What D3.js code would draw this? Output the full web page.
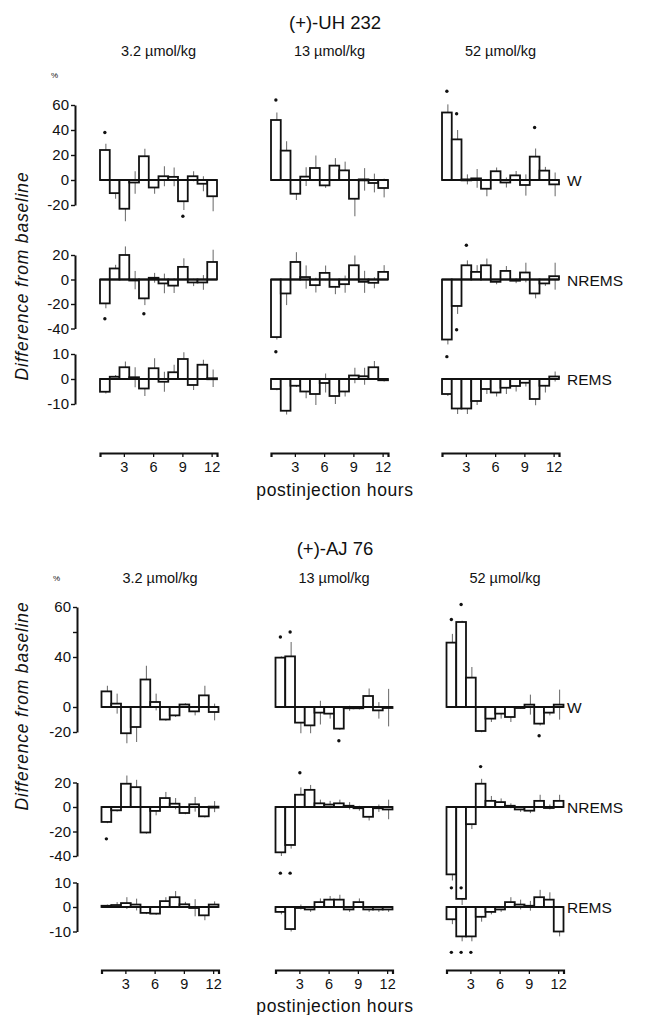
<!DOCTYPE html>
<html>
<head>
<meta charset="utf-8">
<script src="https://cdn.jsdelivr.net/npm/d3@7"></script>
<style>
  body { margin: 0; background: #fff; }
  svg text { font-family: "Liberation Sans", Arial, sans-serif; fill: #111; }
</style>
</head>
<body>
<div id="chart"></div>
<script>
// sleep state change after dopamine autoreceptor antagonists, 12 hourly bars per panel

const hours = [1, 2, 3, 4, 5, 6, 7, 8, 9, 10, 11, 12];
const hourTicks = [3, 6, 9, 12];
const doses = ["3.2 µmol/kg", "13 µmol/kg", "52 µmol/kg"];
const states = ["W", "NREMS", "REMS"];
const drugs = ["(+)-UH 232", "(+)-AJ 76"];

// (+)-UH232, one row per dose
const uhW = [
  [24, -10.5, -23, -2, 19, -6, 3, 2.5, -17, 3, -3, -13],
  [48, 23.5, -11, 2.7, 9.6, -4.3, 11.5, 7.7, -15, 0.5, -2.4, -6.4],
  [54, 32.5, 0.5, 1.3, -7, 7, -2, 3.7, -4, 18.7, 7.5, -3.5]
];
const uhWErr = [
  [5, 4.5, 10, 9, 6, 5, 8, 7.5, 7, 4, 6, 12],
  [6, 7.5, 5, 7.5, 10, 2, 6, 7, 14, 9, 7.5, 7.5],
  [6.5, 7.5, 4, 7.5, 6, 3, 4, 3.5, 8.5, 6.5, 3, 9.5]
];
const uhNrem = [
  [-19.5, 9, 20, -0.5, -15.4, 1.4, -3.2, -5, 10.3, -2.4, -2.4, 14.3],
  [-47, -11.4, 14.3, 2, -4.6, 5.4, -6, -3.8, 11.6, -1.9, -2.7, 6.2],
  [-49, -21.6, 11.6, 6.2, 11.6, -1.9, 7, -1, 5.7, -11.4, -3.2, 2.7]
];
const uhNremErr = [
  [4, 3, 7, 7.5, 5.5, 4, 8, 6, 7, 3, 6, 10],
  [2, 9.5, 8, 9.5, 6, 6, 6, 7, 8, 9, 4.5, 5.5],
  [4, 6.5, 4, 5.5, 5.5, 2, 4, 2, 8, 4, 2, 11]
];
const uhRem = [
  [-5.1, 0.9, 4.7, 0.7, -3.8, 4.3, -1.1, 2.7, 8, -2.4, 5.7, 0.3],
  [-4, -12.7, -2.7, -5, -6, -1.6, -6.8, -5, 1.4, 1.1, 4.7, -0.5],
  [-6, -11.8, -11.8, -8.8, -4, -5.4, -3.5, -2.8, -1.5, -8, -2.7, 1]
];
const uhRemErr = [
  [0.7, 0.7, 2.3, 4, 3, 4, 4, 3, 2.7, 2, 2, 3.5],
  [0.5, 1.5, 0.5, 2.7, 4.4, 3.8, 3.2, 2, 3.1, 3.4, 2.5, 0.5],
  [0.8, 2.2, 2.2, 1.6, 2, 1.6, 2.5, 2.2, 1.5, 2.5, 2.7, 2]
];
// [dose index, hour, level]
const uhWStars = [[0, 1, 38], [0, 9, -29], [1, 1, 64], [2, 1, 71], [2, 2, 53], [2, 10, 42]];
const uhNremStars = [[0, 1, -32], [0, 5, -28], [1, 1, -59], [2, 1, -63], [2, 2, -41], [2, 3, 28]];
const uhRemStars = [];

// (+)-AJ76
const ajW = [
  [12.5, 2.7, -21, -16, 22, 4, -10, -6.7, 2, -3.5, 9.3, -4],
  [39.5, 40.5, -12.5, -14.7, -4.5, -5.3, -17.3, -1, -1, 8.8, -2.7, -0.5],
  [51.5, 68, 23.5, -19.2, -9.3, -5.3, -8, -0.5, 1.9, -13.3, -4.5, 1.9]
];
const ajWErr = [
  [4.5, 8, 8, 12, 11, 6.7, 1, 1.3, 1, 3.2, 7.7, 6.7],
  [1, 11.5, 8.5, 6.3, 9.5, 4, 1, 2, 1, 6, 6.6, 15],
  [7, 1, 8.5, 1, 2.7, 4, 4, 1, 8, 1.5, 2.2, 12]
];
const ajNrem = [
  [-12.2, -2.7, 19, 16.2, -20.8, -3.2, 7.3, 2.7, -4.9, 2.2, -7.6, 0.3],
  [-37, -31, 10, 14, 3, 2, 3, 1, -1, -8, -1, -2],
  [-55, -75, -14, 19, 5, 4, 1, -2, -3, 5, 0, 5]
];
const ajNremErr = [
  [1, 1, 6.7, 6, 1, 3.6, 5, 4.6, 1, 6, 1, 4.5],
  [3, 3, 6, 4, 3, 3, 3, 3, 2, 3, 3, 8],
  [5, 5, 4, 4, 4, 3, 2, 2, 2, 5, 2, 5]
];
const ajRem = [
  [0.5, 0.8, 1.6, 1, -2.4, -2.7, 2.4, 4, 1.1, -0.3, -3.4, 1],
  [-2, -9, 0, -1, 2, 3, 3, -1, 2, -1, -1, -1],
  [-5, -12, -12, -4, -2, -1, 2, 1, 0.5, 4, 3, -10]
];
const ajRemErr = [
  [0.5, 1.2, 2.4, 2.4, 0.5, 0.5, 1.6, 2.5, 1, 3.5, 2, 1.3],
  [1, 1, 1, 1, 1.5, 1.5, 2, 1, 1.5, 1, 1, 1],
  [2, 2, 2, 2, 1, 1, 2, 2, 2, 3, 3, 2]
];
const ajWStars = [[1, 1, 56], [1, 2, 60], [1, 7, -27], [2, 1, 70], [2, 2, 82], [2, 10, -23]];
const ajNremStars = [[0, 1, -26], [1, 1, -54], [1, 2, -54], [1, 3, 28], [2, 1, -66], [2, 2, -66], [2, 4, 33]];
const ajRemStars = [[2, 1, -18.5], [2, 2, -18.5], [2, 3, -18.5]];

// y tick values / labels per row
const wTicksTop = [-20, 0, 20, 40, 60];
const wLabelsTop = ["-20", "0", "20", "40", "60"];
const wTicksBottom = [-20, 0, 40, 60, 80];
const wLabelsBottom = ["-20", "0", "40", "", "60"];
const nremTicks = [-40, -20, 0, 20];
const nremLabels = ["-40", "-20", "0", "20"];
const remTicks = [-10, 0, 10];
const remLabels = ["-10", "0", "10"];

const width = 667, height = 1015;
const panelW = 117;

const svg = d3.select('#chart').append('svg')
  .attr('width', width)
  .attr('height', height);

// layout of the two blocks
const blocks = [
  {
    drug: drugs[0], titleY: 29, doseY: 56, axisX: 75, panelX: [100, 271, 442],
    xAxisY: 453, hoursY: 496, percentY: 78, labelY: 276,
    rows: [
      { name: states[0], vals: uhW, errs: uhWErr, stars: uhWStars, dom: [-20, 60], rng: [205, 105], ticks: wTicksTop, labels: wLabelsTop },
      { name: states[1], vals: uhNrem, errs: uhNremErr, stars: uhNremStars, dom: [-40, 20], rng: [328.5, 255], ticks: nremTicks, labels: nremLabels },
      { name: states[2], vals: uhRem, errs: uhRemErr, stars: uhRemStars, dom: [-10, 10], rng: [404, 354], ticks: remTicks, labels: remLabels }
    ]
  },
  {
    drug: drugs[1], titleY: 555, doseY: 583, axisX: 77, panelX: [101.5, 275.5, 446.5],
    xAxisY: 970, hoursY: 1012, percentY: 581, labelY: 706,
    rows: [
      { name: states[0], vals: ajW, errs: ajWErr, stars: ajWStars, dom: [-20, 80], rng: [732, 607], ticks: wTicksBottom, labels: wLabelsBottom },
      { name: states[1], vals: ajNrem, errs: ajNremErr, stars: ajNremStars, dom: [-40, 20], rng: [856, 782.5], ticks: nremTicks, labels: nremLabels },
      { name: states[2], vals: ajRem, errs: ajRemErr, stars: ajRemStars, dom: [-10, 10], rng: [931.5, 882.5], ticks: remTicks, labels: remLabels }
    ]
  }
];

blocks.forEach(function(b) {
  const g = svg.append('g');

  // drug title
  g.append('text')
    .attr('x', 335).attr('y', b.titleY)
    .attr('text-anchor', 'middle')
    .attr('font-size', '18.5px')
    .text(b.drug);

  // dose headings
  doses.forEach(function(d, i) {
    g.append('text')
      .attr('x', b.panelX[i] + panelW / 2).attr('y', b.doseY)
      .attr('text-anchor', 'middle')
      .attr('font-size', '14.5px')
      .text(d);
  });

  // percent sign
  g.append('text')
    .attr('x', b.axisX - 24).attr('y', b.percentY)
    .attr('font-size', '8px')
    .attr('fill', '#555')
    .text('%');

  // rotated y label
  g.append('text')
    .attr('transform', `translate(28, ${b.labelY}) rotate(-90)`)
    .attr('text-anchor', 'middle')
    .attr('font-size', '17.5px')
    .attr('font-style', 'italic')
    .attr('letter-spacing', '0.8px')
    .text('Difference from baseline');

  b.rows.forEach(function(r) {
    const y = d3.scaleLinear().domain(r.dom).range(r.rng);

    // left axis
    const yAxis = d3.axisLeft(y)
      .tickValues(r.ticks)
      .tickSize(4)
      .tickSizeOuter(0)
      .tickFormat((d, i) => r.labels[i]);
    const ag = g.append('g')
      .attr('transform', `translate(${b.axisX},0)`)
      .call(yAxis);
    ag.select('.domain').attr('stroke', '#111').attr('stroke-width', 2);
    ag.selectAll('.tick line').attr('stroke', '#111').attr('stroke-width', 1.4);
    ag.selectAll('.tick text')
      .attr('x', -6)
      .attr('font-size', '15px')
      .attr('font-family', '"Liberation Sans", Arial, sans-serif')
      .attr('fill', '#111');

    // state label on the right
    g.append('text')
      .attr('x', 567).attr('y', y(0) + 6)
      .attr('font-size', '15.5px')
      .text(r.name);

    doses.forEach(function(d, i) {
      const x = d3.scaleBand().domain(hours).range([b.panelX[i], b.panelX[i] + panelW]).padding(0);
      const pg = g.append('g');
      const data = hours.map((h, k) => ({ h: h, v: r.vals[i][k], e: r.errs[i][k] }));

      // error bars first, the bar body hides the inner half
      pg.selectAll('.err')
        .data(data)
        .enter()
        .append('line')
        .attr('class', 'err')
        .attr('x1', d => x(d.h) + x.bandwidth() / 2 + 1)
        .attr('x2', d => x(d.h) + x.bandwidth() / 2 + 1)
        .attr('y1', d => y(d.v - d.e))
        .attr('y2', d => y(d.v + d.e))
        .attr('stroke', '#666')
        .attr('stroke-width', 1);

      pg.selectAll('.bar')
        .data(data)
        .enter()
        .append('rect')
        .attr('class', 'bar')
        .attr('x', d => x(d.h))
        .attr('width', x.bandwidth())
        .attr('y', d => Math.min(y(d.v), y(0)))
        .attr('height', d => Math.max(1, Math.abs(y(d.v) - y(0))))
        .attr('fill', '#fff')
        .attr('stroke', '#111')
        .attr('stroke-width', 1.8);

      // baseline
      pg.append('line')
        .attr('x1', b.panelX[i]).attr('x2', b.panelX[i] + panelW)
        .attr('y1', y(0)).attr('y2', y(0))
        .attr('stroke', '#111')
        .attr('stroke-width', 1.8);

      // significance marks
      pg.selectAll('.star')
        .data(r.stars.filter(s => s[0] === i))
        .enter()
        .append('circle')
        .attr('class', 'star')
        .attr('cx', s => x(s[1]) + x.bandwidth() / 2)
        .attr('cy', s => y(s[2]))
        .attr('r', 1.7)
        .attr('fill', '#111');
    });
  });

  // hour axes
  b.panelX.forEach(function(px) {
    const x = d3.scaleBand().domain(hours).range([px, px + panelW]).padding(0);
    const xAxis = d3.axisBottom(x)
      .tickValues(hourTicks)
      .tickSize(4)
      .tickSizeOuter(4);
    const xg = g.append('g')
      .attr('transform', `translate(0,${b.xAxisY})`)
      .call(xAxis);
    xg.select('.domain').attr('stroke', '#111').attr('stroke-width', 2.2);
    xg.selectAll('.tick line').attr('stroke', '#111').attr('stroke-width', 1.3);
    xg.selectAll('.tick text')
      .attr('y', 9)
      .attr('font-size', '14.5px')
      .attr('font-family', '"Liberation Sans", Arial, sans-serif')
      .attr('fill', '#111');
  });

  g.append('text')
    .attr('x', 335).attr('y', b.hoursY)
    .attr('text-anchor', 'middle')
    .attr('font-size', '17.5px')
    .attr('letter-spacing', '0.6px')
    .text('postinjection hours');
});
</script>
</body>
</html>
